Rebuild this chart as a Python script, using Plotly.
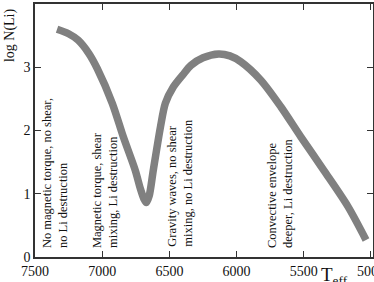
import plotly.graph_objects as go

teff = [7336, 7250, 7180, 7100, 7037, 6925, 6843, 6754, 6716, 6690, 6672, 6650, 6620, 6567, 6530, 6470, 6400, 6340, 6250, 6134, 6050, 5970, 5821, 5672, 5522, 5351, 5172, 5037]
logli = [3.60, 3.53, 3.43, 3.22, 2.98, 2.43, 1.90, 1.37, 1.08, 0.92, 0.86, 0.97, 1.37, 2.05, 2.43, 2.69, 2.88, 3.03, 3.15, 3.21, 3.18, 3.09, 2.80, 2.38, 1.90, 1.37, 0.80, 0.27]

labels = [
    "No magnetic torque, no shear,<br>no Li destruction",
    "Magnetic torque, shear<br>mixing, Li destruction",
    "Gravity waves, no shear<br>mixing, no Li destruction",
    "Convective envelope<br>deeper, Li destruction",
]
label_x = [7351, 6979, 6421, 5677]
label_y = [0.11, 0.11, 0.13, 0.11]

xticks = [7500, 7000, 6500, 6000, 5500, 5000]
yticks = [0, 1, 2, 3]

font = "Liberation Serif, Times New Roman, serif"

fig = go.Figure()
fig.add_trace(go.Scatter(x=teff, y=logli, mode="lines",
                         line=dict(color="#808080", width=7.5, shape="spline", smoothing=0.8),
                         showlegend=False, hoverinfo="skip"))

for t, lx, ly in zip(labels, label_x, label_y):
    fig.add_annotation(x=lx, y=ly, xref="x", yref="y", text=t, textangle=-90,
                       showarrow=False, xanchor="center", yanchor="bottom", align="left",
                       font=dict(family=font, size=12.5, color="#111"))

fig.add_annotation(x=-0.074, y=0.877, xref="paper", yref="paper", text="log N(Li)",
                   textangle=-90, showarrow=False, xanchor="center", yanchor="middle",
                   font=dict(family=font, size=14, color="#111"))
fig.add_annotation(x=0.84, y=-0.02, xref="paper", yref="paper", text="T<sub>eff</sub>",
                   showarrow=False, xanchor="left", yanchor="top",
                   font=dict(family=font, size=19, color="#111"))

axis_common = dict(showgrid=False, zeroline=False, showline=True, linecolor="#333",
                   linewidth=1.5, mirror="ticks", ticks="inside", ticklen=6,
                   tickcolor="#333", tickwidth=1, ticklabeloverflow="allow",
                   automargin=False,
                   tickfont=dict(family=font, size=14, color="#111"))

fig.update_xaxes(range=[7500, 4985], tickvals=xticks, ticktext=[str(v) for v in xticks], **axis_common)
fig.update_yaxes(range=[0, 4], tickvals=yticks, ticktext=[str(v) for v in yticks], **axis_common)

fig.update_layout(width=374, height=282, margin=dict(l=35, r=1, t=4, b=25),
                  plot_bgcolor="white", paper_bgcolor="white")

fig.write_html("out.html")
